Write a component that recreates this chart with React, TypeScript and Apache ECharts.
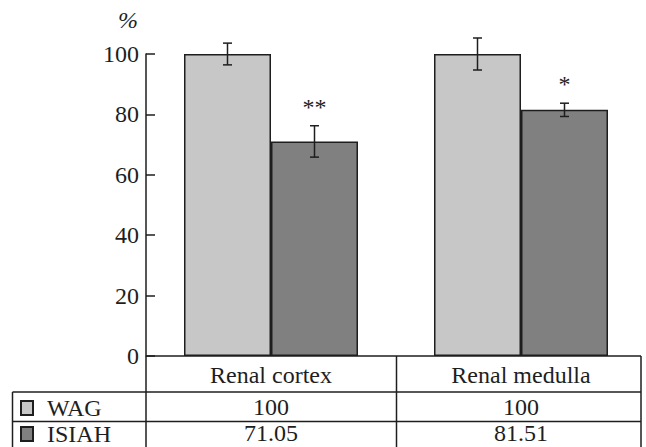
import React, { useEffect, useRef } from 'react';
import * as echarts from 'echarts';

const categories = ['Renal cortex', 'Renal medulla'];
const wagValues = [100, 100];
const isiahValues = [71.05, 81.51];
const wagErrors = [3.6, 5.3];
const isiahErrors = [5.2, 2.2];
const isiahSignificance = ['**', '*'];
const tableWagRow = ['100', '100'];
const tableIsiahRow = ['71.05', '81.51'];
const seriesNames = ['WAG', 'ISIAH'];
const yUnit = '%';

const FONT = 'Liberation Serif, Times New Roman, serif';
const INK = '#1e1e1e';
const BAR_W = 87;
const FS = 24;

function errorSeries(values: number[], errors: number[], offset: number, marks: string[] | null) {
  return {
    type: 'custom',
    clip: false,
    silent: true,
    z: 5,
    data: values.map((v, i) => [i, v, errors[i]]),
    renderItem: (params: any, api: any) => {
      const i = api.value(0);
      const v = api.value(1);
      const e = api.value(2);
      const top = api.coord([i, v + e]);
      const bot = api.coord([i, v - e]);
      const cx = top[0] + offset;
      const cap = 4.5;
      const style = { stroke: INK, lineWidth: 1.5 };
      const children: any[] = [
        { type: 'line', shape: { x1: cx, y1: top[1], x2: cx, y2: bot[1] }, style },
        { type: 'line', shape: { x1: cx - cap, y1: top[1], x2: cx + cap, y2: top[1] }, style },
        { type: 'line', shape: { x1: cx - cap, y1: bot[1], x2: cx + cap, y2: bot[1] }, style },
      ];
      if (marks && marks[params.dataIndex]) {
        children.push({
          type: 'text',
          x: cx,
          y: top[1] - 7,
          style: {
            text: marks[params.dataIndex],
            fill: INK,
            fontFamily: FONT,
            fontSize: FS,
            align: 'center',
            verticalAlign: 'bottom',
          },
        });
      }
      return { type: 'group', children };
    },
  };
}

export default function App() {
  const ref = useRef<HTMLDivElement>(null);
  useEffect(() => {
    if (!ref.current) return;
    const chart = echarts.init(ref.current, null, { renderer: 'svg' });
    const labelStyle = { fontFamily: FONT, fontSize: FS, color: INK };
    const tableAxis = (data: string[], offset: number) => ({
      type: 'category',
      data,
      position: 'bottom',
      offset,
      axisLine: { show: false },
      axisTick: { show: false },
      axisLabel: { ...labelStyle, margin: 7 },
      splitLine: { show: false },
    });
    const ln = (x1: number, y1: number, x2: number, y2: number) => ({
      type: 'line',
      shape: { x1, y1, x2, y2 },
      style: { stroke: INK, lineWidth: 1.5 },
      silent: true,
    });
    const legendRow = (name: string, top: number) => ({
      data: [name],
      orient: 'horizontal',
      left: 20,
      top,
      padding: 0,
      itemWidth: 12,
      itemHeight: 14,
      icon: 'rect',
      selectedMode: false,
      textStyle: { ...labelStyle, padding: [0, 0, 0, 9] },
    });
    chart.setOption({
      animation: false,
      backgroundColor: '#ffffff',
      grid: { left: 146, right: 0, top: 54, bottom: 91, containLabel: false },
      legend: [legendRow(seriesNames[0], 396), legendRow(seriesNames[1], 422)],
      xAxis: [
        {
          type: 'category',
          data: categories,
          axisLine: { show: false },
          axisTick: { show: false },
          axisLabel: { ...labelStyle, margin: 7 },
          splitLine: { show: false },
        },
        tableAxis(tableWagRow, 32),
        tableAxis(tableIsiahRow, 58),
      ],
      yAxis: {
        type: 'value',
        min: 0,
        max: 100,
        interval: 20,
        axisLine: { show: true, lineStyle: { color: INK, width: 1.5 } },
        axisTick: { show: true, inside: true, length: 9, lineStyle: { color: INK, width: 1.5 } },
        axisLabel: { ...labelStyle, margin: 7 },
        splitLine: { show: false },
      },
      series: [
        {
          name: seriesNames[0],
          type: 'bar',
          data: wagValues,
          barWidth: BAR_W,
          barGap: '0%',
          itemStyle: { color: '#c6c7c6', borderColor: INK, borderWidth: 1.5 },
        },
        {
          name: seriesNames[1],
          type: 'bar',
          data: isiahValues,
          barWidth: BAR_W,
          barGap: '0%',
          itemStyle: { color: '#808080', borderColor: INK, borderWidth: 1.5 },
        },
        errorSeries(wagValues, wagErrors, -BAR_W / 2, null),
        errorSeries(isiahValues, isiahErrors, BAR_W / 2, isiahSignificance),
      ],
      graphic: [
        {
          type: 'text',
          x: 128,
          y: 20,
          style: {
            text: yUnit,
            fontFamily: FONT,
            fontSize: FS,
            fontStyle: 'italic',
            fill: INK,
            align: 'center',
            verticalAlign: 'middle',
          },
        },
        ln(146, 356, 641, 356),
        ln(12.5, 392, 641, 392),
        ln(12.5, 421.5, 641, 421.5),
        ln(12.5, 392, 12.5, 460),
        ln(146, 356, 146, 460),
        ln(396.5, 356, 396.5, 460),
        ln(641, 356, 641, 460),
      ],
    });
    return () => chart.dispose();
  }, []);
  return <div ref={ref} style={{ width: 646, height: 447, position: 'absolute', left: 0, top: 0 }} />;
}
